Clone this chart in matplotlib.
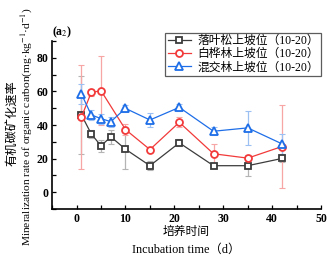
import matplotlib.pyplot as plt
import numpy as np

plt.rcParams['font.family'] = ['Liberation Serif', 'Noto Sans CJK SC']
plt.rcParams['mathtext.fontset'] = 'stix'

# days of incubation
days = [1, 3, 5, 7, 10, 15, 21, 28, 35, 42]
days_red = [1, 3, 5, 10, 15, 21, 28, 35, 42]

larch = [46, 34.7, 27.6, 33, 25.6, 15.8, 29.4, 15.8, 15.8, 20.1]
larch_err = [23, 2.5, 3.5, 4, 12, 2.5, 2, 1.5, 6.3, 2]
birch = [44.8, 59.4, 60.4, 37.3, 25.4, 41.6, 22.9, 20.3, 27.2]
birch_err = [31, 2, 20.5, 3.5, 1.5, 3, 6, 1.5, 24.5]
mixed = [58.4, 46, 43.8, 42, 49.9, 43, 50.5, 36.3, 38.3, 28.8]
mixed_err = [6, 3, 3, 3, 2, 4.4, 2, 2.5, 10, 6]

labels = ['落叶松上坡位（10-20）', '白桦林上坡位（10-20）', '混交林上坡位（10-20）']

W, H = 330, 261
fig = plt.figure(figsize=(W / 100, H / 100), dpi=100)
ax = fig.add_axes([0.158, 0.199, 0.815, 0.644])

series = [
    (days, larch, larch_err, '#3c3c3c', '#b4b4b4', 's', 4.2),
    (days_red, birch, birch_err, '#f23a3a', '#f7a5a5', 'o', 5),
    (days, mixed, mixed_err, '#1e6ee8', '#9cc0f2', '^', 5.8),
]
for (x, y, e, c, ec, m, ms), lab in zip(series, labels):
    ax.errorbar(x, y, yerr=e, fmt='none', ecolor=ec, elinewidth=0.9, capsize=2, capthick=0.8, zorder=1)
    ax.plot(x, y, color=c, marker=m, ms=ms, mfc='white', mec=c, mew=1.3, lw=0.9, label=lab, zorder=3)

ax.set_xlim(-5, 50)
ax.set_ylim(-10, 90)
ax.set_xticks([0, 10, 20, 30, 40, 50])
ax.set_xticks(np.arange(-5, 51, 5), minor=True)
ax.set_yticks([0, 20, 40, 60, 80])
ax.set_yticks(np.arange(-10, 91, 10), minor=True)
ax.tick_params(which='both', direction='in', length=3, width=0.9, labelsize=8.5, pad=2.5)
ax.spines['top'].set_visible(False)
ax.spines['right'].set_visible(False)
ax.spines['left'].set_linewidth(1.2)
ax.spines['bottom'].set_linewidth(1.2)
for t in ax.get_xticklabels() + ax.get_yticklabels():
    t.set_fontweight('bold')

# axis titles, two lines each (Chinese + English)
fig.text(186 / W, 1 - 232 / H, '培养时间', fontsize=8.5, ha='center', va='center')
fig.text(186 / W, 1 - 250 / H, 'Incubation time（d）', fontsize=8.8, ha='center', va='center')
fig.text(12 / W, 1 - 123 / H, '有机碳矿化速率', fontsize=8.8, rotation=90, ha='center', va='center')
fig.text(27 / W, 1 - 127 / H, 'Mineralization rate of organic carbon(mg·kg$^{-1}$·d$^{-1}$)',
         fontsize=8.2, rotation=90, ha='center', va='center')

ax.text(0.0, 1.05, '(a$_2$)', transform=ax.transAxes, fontsize=8.5, fontweight='bold',
        ha='left', va='center')

leg = ax.legend(loc='upper right', bbox_to_anchor=(1.0, 1.05), fontsize=8.5, frameon=True,
                fancybox=False, edgecolor='#333333', handlelength=2.0, borderpad=0.2,
                labelspacing=0.1, handletextpad=0.5, borderaxespad=0.0)
leg.get_frame().set_linewidth(0.9)

fig.savefig('out.png', dpi=100)
